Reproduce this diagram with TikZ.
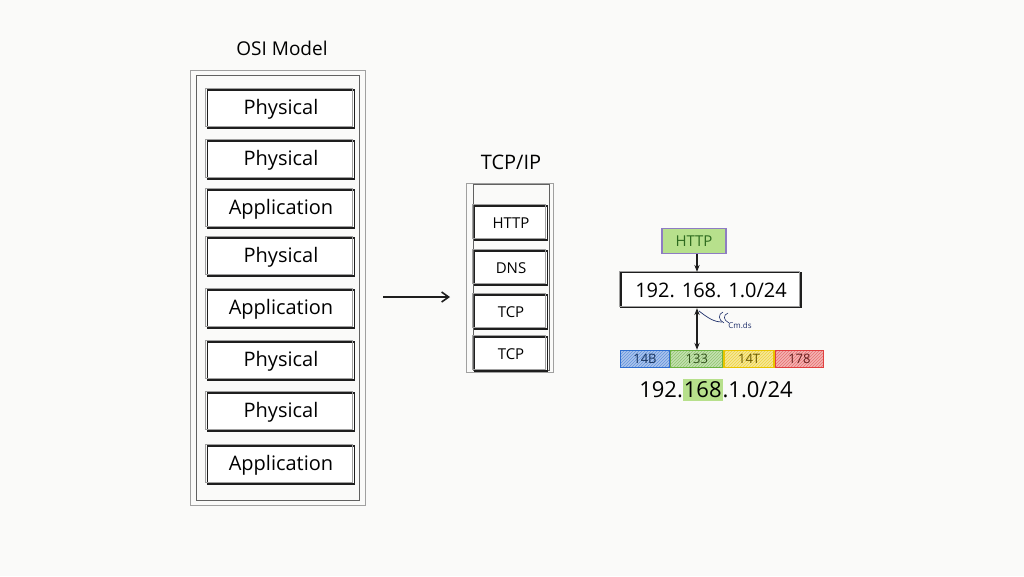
\documentclass[tikz,border=0pt]{standalone}
\usepackage{fontspec}
\setmainfont{Open Sans}
\usetikzlibrary{arrows.meta,positioning,patterns}
\definecolor{paper}{HTML}{FAFAF9}
\definecolor{pencil}{HTML}{1E1E1E}
\definecolor{smudge}{HTML}{A0A0A0}
\definecolor{ipgreen}{HTML}{B7E08C}
\definecolor{ipgreendark}{HTML}{2E6B1F}
\definecolor{ippurple}{HTML}{8E7CC3}
\definecolor{segblue}{HTML}{2F6FD0}
\definecolor{seggreen}{HTML}{6DB33F}
\definecolor{segyellow}{HTML}{E8C400}
\definecolor{segred}{HTML}{E04040}
\definecolor{inkblue}{HTML}{1F2F6B}

\tikzset{
    sketch/.style={postaction={draw=smudge,line width=0.6pt,transform canvas={shift={(-2pt,1.5pt)}}}},
    osilayer/.style={draw=pencil,line width=1.4pt,fill=white,minimum width=147pt,minimum height=38pt,
        inner sep=0pt,font=\fontsize{20}{24}\selectfont,sketch},
    tcplayer/.style={draw=pencil,line width=1.1pt,fill=white,minimum width=73pt,minimum height=34pt,
        inner sep=0pt,font=\fontsize{15}{18}\selectfont,sketch},
    segment/.style={draw=#1,line width=1.3pt,minimum width=49pt,minimum height=17pt,inner sep=0pt,
        preaction={fill=#1!40},pattern=north east lines,pattern color=#1!75,
        font=\fontsize{13}{15}\selectfont,text=#1!45!black}
}

\begin{document}
\begin{tikzpicture}[x=1pt,y=-1pt]
    \fill[paper] (0,0) rectangle (1024,576);
    \useasboundingbox (0,0) rectangle (1024,576);

    % OSI stack
    \node[font=\fontsize{19}{22}\selectfont] (osititle) at (282,48) {OSI Model};
    \draw[smudge,line width=0.8pt] (190,70) rectangle (365,505);
    \draw[pencil!70,line width=0.9pt] (196,75) rectangle (359,500);
    \foreach \y/\t [count=\i] in {109/Physical,160/Physical,209/Application,257/Physical,
            309/Application,361/Physical,412/Physical,465/Application}
        \node[osilayer] (osi\i) at (281,\y) {\t};

    % TCP/IP stack
    \node[font=\fontsize{20}{24}\selectfont] (tcptitle) at (511,162) {TCP/IP};
    \draw[smudge,line width=0.8pt] (466,183) rectangle (553,372);
    \draw[pencil!70,line width=0.9pt] (473,184) rectangle (549,370);
    \foreach \y/\t [count=\i] in {223/HTTP,268/DNS,312/TCP,354/TCP}
        \node[tcplayer] (tcp\i) at (511,\y) {\t};

    \coordinate (mapfrom) at (383,297);
    \coordinate (mapto) at (450,297);
    \draw[-{Straight Barb[length=7pt,width=10pt]},pencil,line width=1.6pt] (mapfrom) -- (mapto);

    % addressing example
    \node[draw=ippurple,line width=1.2pt,fill=ipgreen,minimum width=64pt,minimum height=25pt,inner sep=0pt,
        text=ipgreendark,font=\fontsize{15}{18}\selectfont] (http) at (694,241) {HTTP};
    \node[draw=pencil,line width=1.2pt,fill=white,minimum width=180pt,minimum height=35pt,inner sep=0pt,
        font=\fontsize{20}{24}\selectfont,sketch] (subnet) at (711,290) {192. 168. 1.0/24};
    \draw[-{Stealth[length=7pt]},pencil,line width=1.1pt] (http.south -| 697,0) -- (subnet.north -| 697,0);

    \node[segment=segblue] (seg1) at (645,359) {14B};
    \node[segment=seggreen,right=0pt of seg1,minimum width=52pt] (seg2) {133};
    \node[segment=segyellow,right=0pt of seg2,minimum width=50pt] (seg3) {14T};
    \node[segment=segred,right=0pt of seg3,minimum width=48pt] (seg4) {178};
    \draw[{Stealth[length=7pt]}-{Stealth[length=7pt]},pencil,line width=1.2pt]
        (subnet.south -| 697,0) -- (seg1.north -| 697,0);

    \draw[inkblue,line width=0.7pt] (699,311) .. controls (708,318) and (714,322) .. (722,322);
    \draw[inkblue,line width=0.6pt] (723,312) .. controls (718,314) and (718,320) .. (724,323);
    \draw[inkblue,line width=0.6pt] (728,313) .. controls (723,315) and (723,320) .. (729,323);
    \node[text=inkblue,font=\fontsize{8}{10}\selectfont,inner sep=1pt] (note) at (740,326) {Cm.ds};

    \node[font=\fontsize{22}{26}\selectfont] (address) at (716,390)
        {192.\colorbox{ipgreen}{\hspace{-2pt}168\hspace{-2pt}}.1.0/24};
\end{tikzpicture}
\end{document}
